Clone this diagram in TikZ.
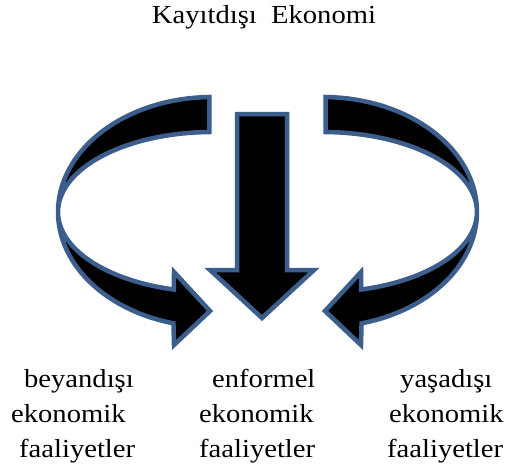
\documentclass[tikz,border=0pt]{standalone}
\usepackage{fontspec}
\setmainfont{Liberation Serif}
\newfontfamily\tnr{Liberation Serif}[FakeStretch=1.1]
\definecolor{kenar}{HTML}{3B5E8C}
\tikzset{serit/.style={fill=black,draw=kenar,line width=4.5pt,line join=miter},
  yazi/.style={font=\tnr\fontsize{26}{35}\selectfont,inner sep=0pt,align=left}}
% kivrik ok (sol taraf), sag taraf aynalanir
\newcommand{\donus}{%
\draw[serit] plot[domain=269:104.5,samples=60,variable=\t] ({212+154*cos(\t)},{212+115*sin(\t)})
  -- (174,345) -- (210,311) -- (174,272)
  -- plot[domain=104.3:269,samples=60,variable=\t] ({212+154*cos(\t)},{212+80*sin(\t)}) -- cycle;}

\begin{document}
\begin{tikzpicture}[x=1pt,y=-1pt]
\useasboundingbox (0,0) rectangle (519,472);
\node[yazi,anchor=base] (baslik) at (264,23) {Kayıtdışı~~Ekonomi};
\donus
\begin{scope}[shift={(535,0)},xscale=-1]
\donus
\end{scope}
\draw[serit] (237,114) -- (287,114) -- (287,270) -- (314,270) -- (262,318) -- (210,270) -- (237,270) -- cycle;
\node[yazi,anchor=north west] (sol) at (11,369) {\hspace*{13pt}beyandışı\\ekonomik\\\hspace*{8pt}faaliyetler};
\node[yazi,anchor=north west] (orta) at (199,369) {\hspace*{13pt}enformel\\ekonomik\\faaliyetler};
\node[yazi,anchor=north west] (sag) at (387,369) {\hspace*{13pt}yaşadışı\\\hspace*{2pt}ekonomik\\faaliyetler};
\end{tikzpicture}
\end{document}
